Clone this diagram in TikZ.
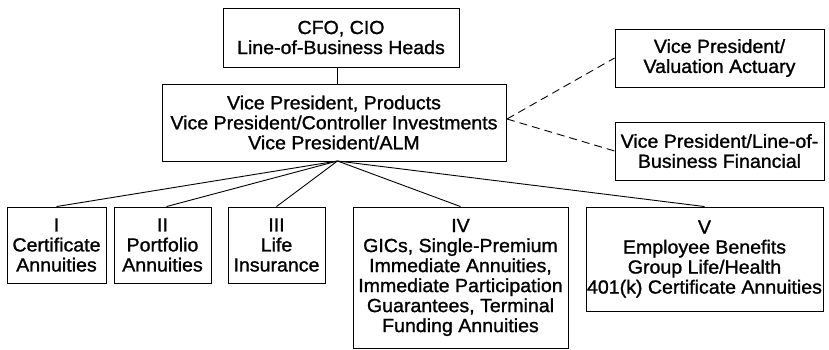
\documentclass[tikz,border=0pt]{standalone}
\usepackage{fontspec}
\setmainfont{Liberation Sans}[FakeStretch=1.03,FakeBold=1.2]
\begin{document}
\begin{tikzpicture}[x=1pt,y=-1pt,
  box/.style={draw=black, line width=0.9pt, rectangle, inner sep=0pt, align=center,
    font=\fontsize{19}{20}\selectfont},
  conn/.style={draw=black, line width=0.9pt},
  dconn/.style={draw=black, line width=0.9pt, dash pattern=on 8pt off 5pt}]
\useasboundingbox (0,0) rectangle (829,350);
\node[box, minimum width=236pt, minimum height=59pt] (top) at (341,37.5) {CFO, CIO\\Line-of-Business Heads};
\node[box, minimum width=344pt, minimum height=77pt] (mid) at (334,122.5) {Vice President, Products\\Vice President/Controller Investments\\Vice President/ALM};
\node[box, minimum width=209pt, minimum height=58pt] (r1) at (719.5,58) {Vice President/\\Valuation Actuary};
\node[box, minimum width=209pt, minimum height=58pt] (r2) at (719.5,151) {Vice President/Line-of-\\Business Financial};
\node[box, minimum width=99pt, minimum height=76pt] (b1) at (56.5,245) {I\\Certificate\\Annuities};
\node[box, minimum width=97pt, minimum height=76pt] (b2) at (162.5,245) {II\\Portfolio\\Annuities};
\node[box, minimum width=97pt, minimum height=76pt] (b3) at (276.5,245) {III\\Life\\Insurance};
\node[box, minimum width=215pt, minimum height=141pt] (b4) at (460.5,277.5) {IV\\GICs, Single-Premium\\Immediate Annuities,\\Immediate Participation\\Guarantees, Terminal\\Funding Annuities};
\node[box, minimum width=237pt, minimum height=104pt] (b5) at (704.5,259) {V\\Employee Benefits\\Group Life/Health\\401(k) Certificate Annuities};
\coordinate (hub) at (337.5,161);
\coordinate (dstart) at (507,119);
\draw[conn] (top.south -| hub) -- (mid.north -| hub);
\draw[conn] (hub) -- (b1.north);
\draw[conn] (hub) -- ([xshift=4pt]b2.north);
\draw[conn] (hub) -- (b3.north);
\draw[conn] (hub) -- (b4.north);
\draw[conn] (hub) -- (b5.north);
\draw[dconn] (dstart) -- (r1.west);
\draw[dconn] (dstart) -- (r2.west);
\end{tikzpicture}
\end{document}
